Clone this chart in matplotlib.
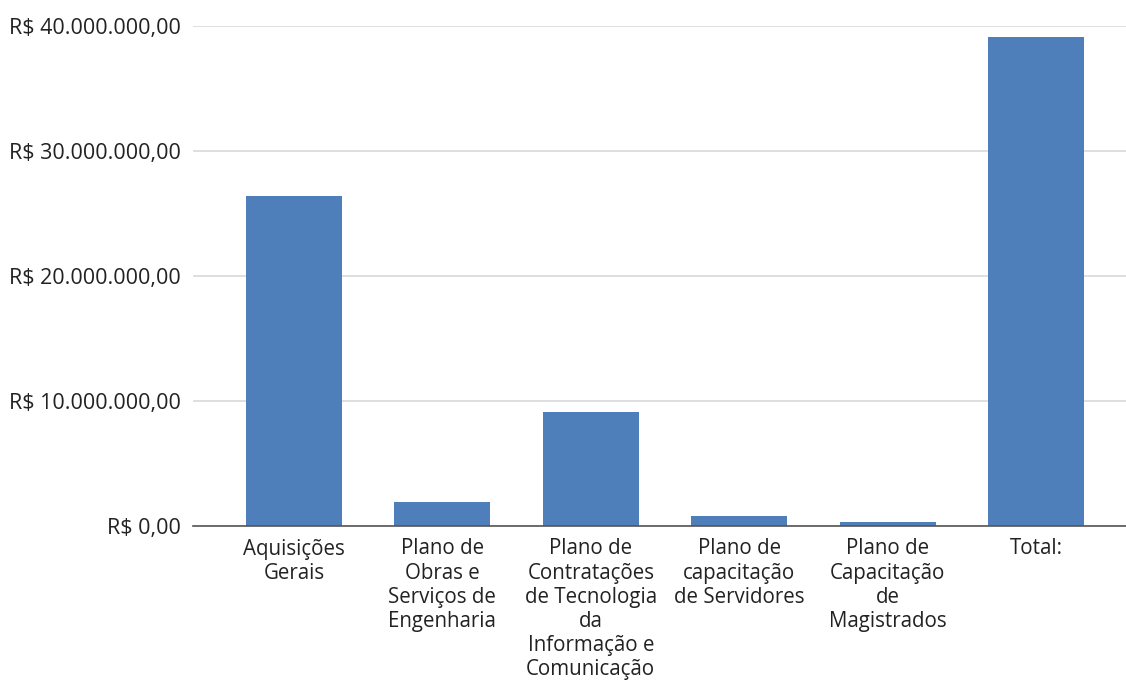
import matplotlib
matplotlib.use("Agg")
import matplotlib.pyplot as plt
from matplotlib.ticker import FuncFormatter

categories = [
    "Aquisições\nGerais",
    "Plano de\nObras e\nServiços de\nEngenharia",
    "Plano de\nContratações\nde Tecnologia\nda\nInformação e\nComunicação",
    "Plano de\ncapacitação\nde Servidores",
    "Plano de\nCapacitação\nde\nMagistrados",
    "Total:",
]
values = [26_400_000, 1_920_000, 9_140_000, 820_000, 340_000, 39_100_000]
yticks = [0, 10_000_000, 20_000_000, 30_000_000, 40_000_000]

plt.rcParams['font.family'] = ['Open Sans', 'DejaVu Sans']

W, H = 1126, 680
fig = plt.figure(figsize=(W / 100, H / 100), dpi=100)
left, right = 193, 1126
top, bottom = 25.7, 526
ax = fig.add_axes([left / W, (H - bottom) / H, (right - left) / W, (bottom - top) / H])

x = list(range(len(categories)))
ax.bar(x, values, width=0.647, color="#4e7fbb", zorder=3)

c0, sp = 294, 148.4
ax.set_xlim(-(c0 - left) / sp, (right - c0) / sp)
ax.set_ylim(0, 40_000_000)
ax.set_yticks(yticks)

def fmt(v, pos):
    s = f"{v:,.2f}"
    s = s.replace(",", "X").replace(".", ",").replace("X", ".")
    return "R$ " + s

ax.yaxis.set_major_formatter(FuncFormatter(fmt))
ax.set_xticks(x)
ax.set_xticklabels(categories, fontsize=14.8, color="#222222", linespacing=1.2)
for lab in ax.get_yticklabels():
    lab.set_fontsize(15.5)
    lab.set_color("#222222")

ax.grid(axis="y", color="#d9d9d9", linewidth=1.2, zorder=0)
ax.tick_params(axis="both", length=0)
ax.tick_params(axis="y", pad=8.5)
ax.tick_params(axis="x", pad=9)
for s in ["top", "right", "left"]:
    ax.spines[s].set_visible(False)
ax.spines["bottom"].set_color("#555555")
ax.spines["bottom"].set_linewidth(1.2)
ax.spines["bottom"].set_zorder(4)

fig.savefig("out.png", dpi=100, facecolor="white")
